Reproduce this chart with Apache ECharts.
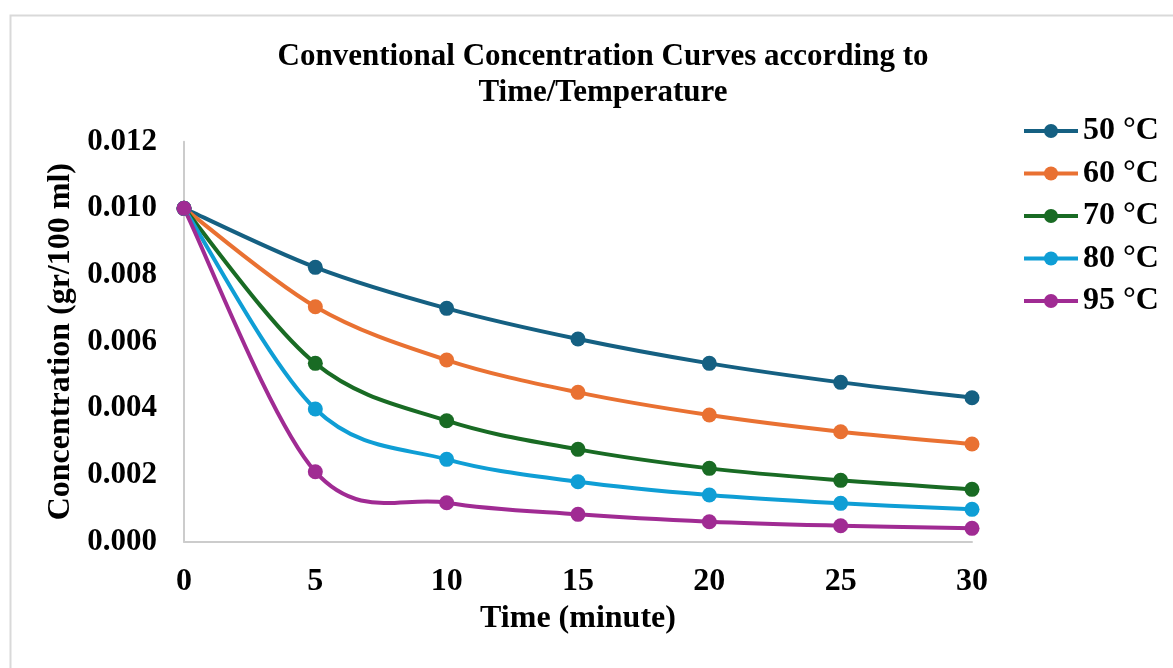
<!DOCTYPE html>
<html>
<head>
<meta charset="utf-8">
<script src="https://cdn.jsdelivr.net/npm/echarts@6/dist/echarts.min.js"></script>
<style>
  html, body { margin: 0; padding: 0; background: #ffffff; }
  #chart { width: 1173px; height: 668px; }
</style>
</head>
<body>
<div id="chart"></div>
<script>
// Sampling times (minutes)
const times = [0, 5, 10, 15, 20, 25, 30];

// Concentration (gr/100 ml) at each temperature
const seriesNames = ['50 °C', '60 °C', '70 °C', '80 °C', '95 °C'];
const conc50 = [0.0100, 0.00823, 0.00700, 0.00608, 0.00535, 0.00478, 0.00432];
const conc60 = [0.0100, 0.00705, 0.00545, 0.00448, 0.00380, 0.00330, 0.00293];
const conc70 = [0.0100, 0.00535, 0.00363, 0.00277, 0.00220, 0.00184, 0.00157];
const conc80 = [0.0100, 0.00398, 0.00247, 0.00180, 0.00140, 0.00115, 0.00097];
const conc95 = [0.0100, 0.00210, 0.00117, 0.00082, 0.00060, 0.00048, 0.00040];
const seriesValues = [conc50, conc60, conc70, conc80, conc95];

const colors = ['#156082', '#E97132', '#196B24', '#0F9ED5', '#A02B93'];
const FONT = "'Liberation Serif', 'Times New Roman', serif";
const LINE_W = 4;

const chart = echarts.init(document.getElementById('chart'), null, { renderer: 'canvas' });

// Smoothed curve: each data item draws the cubic Bezier segment to the next point,
// with control points taken from the neighbouring points (Catmull-Rom, 1/6 tension).
function makeCurveRenderer(values, color) {
  return function (params, api) {
    const j = params.dataIndex;
    const n = times.length;
    if (j >= n - 1) return null;
    const clampIdx = k => Math.max(0, Math.min(n - 1, k));
    const pt = k => api.coord([times[clampIdx(k)], values[clampIdx(k)]]);
    const p0 = pt(j - 1), p1 = pt(j), p2 = pt(j + 1), p3 = pt(j + 2);
    const cp1 = [p1[0] + (p2[0] - p0[0]) / 6, p1[1] + (p2[1] - p0[1]) / 6];
    const cp2 = [p2[0] - (p3[0] - p1[0]) / 6, p2[1] - (p3[1] - p1[1]) / 6];
    return {
      type: 'bezierCurve',
      shape: { x1: p1[0], y1: p1[1], cpx1: cp1[0], cpy1: cp1[1], cpx2: cp2[0], cpy2: cp2[1], x2: p2[0], y2: p2[1] },
      style: { stroke: color, lineWidth: LINE_W, fill: null, lineCap: 'round' },
      silent: true
    };
  };
}

// Markers (and legend entries)
const markerSeries = seriesNames.map((name, i) => ({
  name: name,
  type: 'line',
  data: times.map((t, j) => [t, seriesValues[i][j]]),
  symbol: 'circle',
  symbolSize: 15,
  showAllSymbol: true,
  lineStyle: { width: 0, opacity: 0, color: colors[i] },
  itemStyle: { color: colors[i] },
  z: 10 + i
}));

// Smoothed connecting curves
const curveSeries = seriesNames.map((name, i) => ({
  name: name,
  type: 'custom',
  data: times.map((t, j) => [t, seriesValues[i][j]]),
  encode: { x: 0, y: 1 },
  renderItem: makeCurveRenderer(seriesValues[i], colors[i]),
  z: 2 + i
}));

chart.setOption({
  backgroundColor: '#ffffff',
  animation: false,
  color: colors,
  graphic: [{
    type: 'rect',
    left: 8, top: 13,
    shape: { width: 1200, height: 700 },
    style: { fill: 'none', stroke: '#d9d9d9', lineWidth: 2 },
    silent: true,
    z: -1
  }],
  title: {
    text: 'Conventional Concentration Curves according to\nTime/Temperature',
    left: 598, top: 34,
    textAlign: 'center',
    textStyle: { fontFamily: FONT, fontWeight: 'bold', fontSize: 31, lineHeight: 36, color: '#000' }
  },
  legend: {
    orient: 'vertical',
    left: 1017, top: 110,
    itemWidth: 54, itemHeight: 17.5, itemGap: 10.5,
    lineStyle: { width: 4, opacity: 1 },
    textStyle: { fontFamily: FONT, fontWeight: 'bold', fontSize: 32, lineHeight: 32, color: '#000' },
    data: seriesNames
  },
  grid: { left: 184, right: 201, top: 141.7, bottom: 126.3, containLabel: false },
  xAxis: {
    type: 'value',
    min: 0, max: 30, interval: 5,
    name: 'Time (minute)',
    nameLocation: 'middle',
    nameGap: 61,
    nameTextStyle: { fontFamily: FONT, fontWeight: 'bold', fontSize: 32, color: '#000' },
    axisLine: { show: true, onZero: false, lineStyle: { color: '#cccccc', width: 2 } },
    axisTick: { show: false },
    splitLine: { show: false },
    axisLabel: { margin: 24, fontFamily: FONT, fontWeight: 'bold', fontSize: 32, color: '#000' }
  },
  yAxis: {
    type: 'value',
    min: 0, max: 0.012, interval: 0.002,
    name: 'Concentration (gr/100 ml)',
    nameLocation: 'middle',
    nameGap: 104,
    nameTextStyle: { fontFamily: FONT, fontWeight: 'bold', fontSize: 32, color: '#000' },
    axisLine: { show: true, lineStyle: { color: '#cccccc', width: 2 } },
    axisTick: { show: false },
    splitLine: { show: false },
    axisLabel: {
      margin: 27, fontFamily: FONT, fontWeight: 'bold', fontSize: 31, color: '#000',
      formatter: v => v.toFixed(3)
    }
  },
  series: markerSeries.concat(curveSeries)
});
</script>
</body>
</html>
